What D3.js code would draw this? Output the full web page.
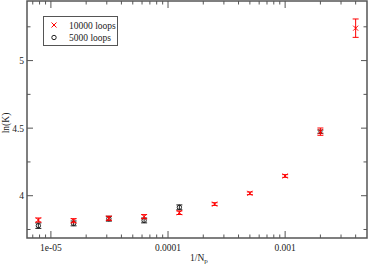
<!DOCTYPE html>
<html><head><meta charset="utf-8">
<script src="https://cdn.jsdelivr.net/npm/d3@7"></script>
<style>body{margin:0;background:#fff}svg{display:block}text{font-family:"Liberation Serif","DejaVu Serif",serif;fill:#222}</style>
</head><body><div id="c"></div>
<script>
const xValues = [1/128000, 1/64000, 1/32000, 1/16000, 1/8000, 1/4000, 1/2000, 1/1000, 1/500, 1/250];
const red10000 = [3.82, 3.815, 3.833, 3.845, 3.874, 3.938, 4.018, 4.146, 4.474, 5.24];
const red10000Err = [0.015, 0.015, 0.015, 0.015, 0.013, 0.01, 0.01, 0.01, 0.027, 0.068];
const blk5000X = [1/128000, 1/64000, 1/32000, 1/16000, 1/8000, 1/500];
const blk5000 = [3.778, 3.795, 3.83, 3.817, 3.914, 4.474];
const blk5000Err = [0.02, 0.018, 0.018, 0.018, 0.018, 0.012];
const xMajor = [1e-5, 1e-4, 1e-3];
const xMajorLabels = ["1e-05", "0.0001", "0.001"];
const yMajor = [4, 4.5, 5];
const yMajorLabels = ["4", "4.5", "5"];
const yMinor = [3.75, 4.25, 4.75, 5.25];
const legendLabels = ["10000 loops", "5000 loops"];

const W = 369, H = 265;
const L = 27, R = 367, T = 1, B = 238;
const svg = d3.select("#c").append("svg").attr("width", W).attr("height", H);
const x = d3.scaleLog().domain([6.25e-6, 5e-3]).range([L, R]);
const y = d3.scaleLinear().domain([3.687, 5.441]).range([B, T]);

const xMinor = [];
[1e-6, 1e-5, 1e-4, 1e-3].forEach(d => { for (let k = 2; k <= 9; k++) { const v = d * k; if (v > 6.25e-6 && v < 5e-3) xMinor.push(v); } });

const axisCol = "#555";
const g = svg.append("g");
g.append("rect").attr("x", L).attr("y", T).attr("width", R - L).attr("height", B - T)
  .attr("fill", "none").attr("stroke", axisCol).attr("stroke-width", 1.5);
xMajor.forEach(v => {
  g.append("line").attr("x1", x(v)).attr("x2", x(v)).attr("y1", B).attr("y2", B - 7).attr("stroke", axisCol);
  g.append("line").attr("x1", x(v)).attr("x2", x(v)).attr("y1", T).attr("y2", T + 7).attr("stroke", axisCol);
});
xMinor.forEach(v => {
  g.append("line").attr("x1", x(v)).attr("x2", x(v)).attr("y1", B).attr("y2", B - 3.5).attr("stroke", axisCol);
  g.append("line").attr("x1", x(v)).attr("x2", x(v)).attr("y1", T).attr("y2", T + 3.5).attr("stroke", axisCol);
});
yMajor.forEach(v => {
  g.append("line").attr("x1", L).attr("x2", L + 6).attr("y1", y(v)).attr("y2", y(v)).attr("stroke", axisCol);
  g.append("line").attr("x1", R).attr("x2", R - 6).attr("y1", y(v)).attr("y2", y(v)).attr("stroke", axisCol);
});
yMinor.forEach(v => {
  g.append("line").attr("x1", L).attr("x2", L + 3.5).attr("y1", y(v)).attr("y2", y(v)).attr("stroke", axisCol);
  g.append("line").attr("x1", R).attr("x2", R - 3.5).attr("y1", y(v)).attr("y2", y(v)).attr("stroke", axisCol);
});
xMajor.forEach((v, i) => {
  g.append("text").attr("x", x(v)).attr("y", 251).attr("text-anchor", "middle").attr("font-size", 9.5).text(xMajorLabels[i]);
});
yMajor.forEach((v, i) => {
  g.append("text").attr("x", 24).attr("y", y(v) + 3.5).attr("text-anchor", "end").attr("font-size", 9.5).text(yMajorLabels[i]);
});
const xl = g.append("text").attr("x", 190).attr("y", 261).attr("font-size", 9.5);
xl.append("tspan").text("1/N");
xl.append("tspan").attr("font-size", 7).attr("dy", 2).text("p");
g.append("text").attr("transform", "translate(9,123) rotate(-90)").attr("text-anchor", "middle").attr("font-size", 9.5).text("ln(K)");

function errbar(cx, v, e, col) {
  const y1 = y(v + e), y2 = y(v - e);
  g.append("line").attr("x1", cx).attr("x2", cx).attr("y1", y1).attr("y2", y2).attr("stroke", col).attr("stroke-width", 1);
  [y1, y2].forEach(yy => g.append("line").attr("x1", cx - 3).attr("x2", cx + 3).attr("y1", yy).attr("y2", yy).attr("stroke", col).attr("stroke-width", 1));
}
function cross(cx, cy, col) {
  const s = 2.5;
  g.append("path").attr("d", `M${cx - s},${cy - s}L${cx + s},${cy + s}M${cx - s},${cy + s}L${cx + s},${cy - s}`).attr("stroke", col).attr("stroke-width", 1).attr("fill", "none");
}
function circ(cx, cy, col, r) {
  g.append("circle").attr("cx", cx).attr("cy", cy).attr("r", r).attr("fill", "none").attr("stroke", col).attr("stroke-width", 1);
}
blk5000X.forEach((xv, i) => {
  errbar(x(xv), blk5000[i], blk5000Err[i], "#222");
  circ(x(xv), y(blk5000[i]), "#222", xv > 1e-3 ? 1.5 : 2.2);
});
xValues.forEach((xv, i) => {
  errbar(x(xv), red10000[i], red10000Err[i], "#f00");
  cross(x(xv), y(red10000[i]), "#f00");
});
g.append("rect").attr("x", 43.5).attr("y", 16.5).attr("width", 74).attr("height", 29).attr("fill", "#fff").attr("stroke", axisCol).attr("stroke-width", 1);
cross(54, 25, "#f00");
circ(54, 37.5, "#222", 2.2);
g.append("text").attr("x", 69).attr("y", 28.5).attr("font-size", 9.5).text(legendLabels[0]);
g.append("text").attr("x", 69).attr("y", 41).attr("font-size", 9.5).text(legendLabels[1]);
</script></body></html>
